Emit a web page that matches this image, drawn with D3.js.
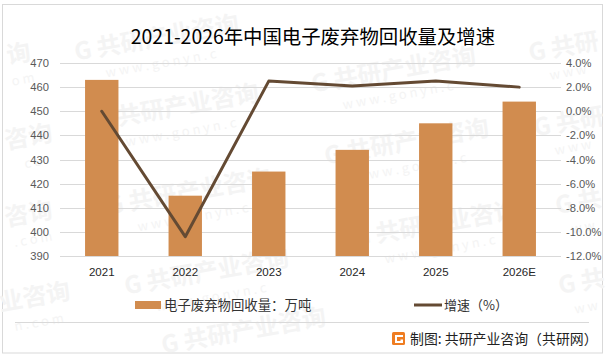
<!DOCTYPE html>
<html>
<head>
<meta charset="utf-8">
<script src="https://cdn.jsdelivr.net/npm/d3@7/dist/d3.min.js"></script>
<style>
  body { margin: 0; background: #fff; }
  svg { display: block; font-family: "Noto Sans CJK SC", sans-serif; }
</style>
</head>
<body>
<script>
var years = ['2021', '2022', '2023', '2024', '2025', '2026E'];
var recovery = [463, 415, 425, 434, 445, 454];
var growth = [0, -10.4, 2.5, 2.1, 2.5, 2.0];
var leftTicks = [390, 400, 410, 420, 430, 440, 450, 460, 470];
var rightTicks = [-12, -10, -8, -6, -4, -2, 0, 2, 4];
// watermarks. partial ones at the frame get shorter strings
var markText = ['G 共研产业咨询', 'G 共研产业咨询', 'G 共研产业咨询', 'G 共研产业咨询', 'G 共研产业咨询', 'G 共研产业咨询', 'G 共研产业咨询', 'G 共研产业咨询', 'G 共研', 'G 共研', 'G 共', 'G 共', '询', '咨询', '咨询', '业咨询'];
var markSub = ['w w w . g o n y n . c', 'w w w . g o n y n . c', 'w w w . g o n y n . c', 'w w w . g o n y n . c', '', 'w w w . g o n y n . c', 'w w w . g o n y n . c', 'w w w . g o n y n . c', 'w w w', 'w w w', 'w w', 'w w', 'o m', 'c o', '. c o m', 'n . c o m'];
var markX = [158, 178, 190, 208, 245, 395, 408, 437, 565, 570, 580, 583, 20, 30, 30, 36];
var markY = [46, 115, 200, 280, 339, 78, 150, 232, 55, 130, 210, 290, 62, 145, 222, 305];

var width = 613, height = 358;
var margin = {top: 63, right: 52, bottom: 102, left: 60};
var w = width - margin.left - margin.right,
    h = height - margin.top - margin.bottom;

var svg = d3.select('body').append('svg')
    .attr('width', width)
    .attr('height', height);

// outer frame
svg.append('rect')
    .attr('x', 2.5).attr('y', 4.5)
    .attr('width', 600).attr('height', 348.5)
    .attr('fill', '#fff')
    .attr('stroke', '#d9d9d9')
    .attr('stroke-width', 1);

// watermarks
var marks = svg.selectAll('.mark')
    .data(markText)
    .enter()
    .append('g')
    .attr('class', 'mark')
    .attr('transform', function (d, i) {
      return 'translate(' + markX[i] + ',' + markY[i] + ') rotate(-10)';
    });
marks.append('text')
    .text(function (d) { return d; })
    .attr('text-anchor', 'middle')
    .attr('font-size', 24)
    .attr('font-weight', 700)
    .attr('fill', '#f4f4f4');
marks.append('text')
    .text(function (d, i) { return markSub[i]; })
    .attr('text-anchor', 'middle')
    .attr('y', 22)
    .attr('font-size', 13)
    .attr('fill', '#f4f4f4');

var xScale = d3.scaleBand()
    .domain(years)
    .range([0, w])
    .paddingInner(0.6)
    .paddingOuter(0.3);

var yLeft = d3.scaleLinear().domain([390, 470]).range([h, 0]);
var yRight = d3.scaleLinear().domain([-12, 4]).range([h, 0]);

var g = svg.append('g')
    .attr('transform', 'translate(' + margin.left + ',' + margin.top + ')');

// gridlines
g.selectAll('.grid')
    .data(leftTicks)
    .enter()
    .append('line')
    .attr('class', 'grid')
    .attr('x1', 0)
    .attr('x2', w)
    .attr('y1', function (d) { return Math.round(yLeft(d)) + 0.5; })
    .attr('y2', function (d) { return Math.round(yLeft(d)) + 0.5; })
    .attr('stroke', '#d9d9d9')
    .attr('stroke-width', 1);

g.selectAll('.bar')
    .data(recovery)
    .enter()
    .append('rect')
    .attr('class', 'bar')
    .attr('x', function (d, i) { return xScale(years[i]); })
    .attr('y', function (d) { return yLeft(d); })
    .attr('width', xScale.bandwidth())
    .attr('height', function (d) { return h - yLeft(d); })
    .attr('fill', '#d18c4f');

var line = d3.line()
    .x(function (d, i) { return xScale(years[i]) + xScale.bandwidth() / 2; })
    .y(function (d) { return yRight(d); });

g.append('path')
    .datum(growth)
    .attr('d', line)
    .attr('fill', 'none')
    .attr('stroke', '#644a33')
    .attr('stroke-width', 3)
    .attr('stroke-linecap', 'round')
    .attr('stroke-linejoin', 'round');

// axes, tick marks and domain hidden
var leftAxis = d3.axisLeft(yLeft).tickValues(leftTicks).tickSize(0).tickPadding(11);
var rightAxis = d3.axisRight(yRight).tickValues(rightTicks).tickSize(0).tickPadding(5)
    .tickFormat(function (d) { return d.toFixed(1) + '%'; });
var bottomAxis = d3.axisBottom(xScale).tickSize(0).tickPadding(12);

g.append('g').call(leftAxis);
g.append('g').attr('transform', 'translate(' + w + ',0)').call(rightAxis);
g.append('g').attr('class', 'xa').attr('transform', 'translate(0,' + h + ')').call(bottomAxis);

g.selectAll('.domain').remove();
g.selectAll('.tick text')
    .attr('font-family', '"Liberation Sans", Arial, sans-serif')
    .attr('font-size', 11.2)
    .attr('fill', '#595959');
g.selectAll('.xa .tick text').attr('fill', '#262626').attr('font-size', 11.5);

// title
svg.append('text')
    .text('2021-2026年中国电子废弃物回收量及增速')
    .attr('x', 313)
    .attr('y', 44)
    .attr('text-anchor', 'middle')
    .attr('font-size', 19.4)
    .attr('fill', '#000');

// legend
svg.append('rect')
    .attr('x', 135).attr('y', 301)
    .attr('width', 26).attr('height', 8)
    .attr('fill', '#d18c4f');
svg.append('text')
    .text('电子废弃物回收量：万吨')
    .attr('x', 164).attr('y', 310)
    .attr('font-size', 13.4)
    .attr('fill', '#333');
svg.append('line')
    .attr('x1', 414).attr('x2', 442)
    .attr('y1', 305).attr('y2', 305)
    .attr('stroke', '#644a33')
    .attr('stroke-width', 3);
svg.append('text')
    .text('增速（%）')
    .attr('x', 444).attr('y', 310)
    .attr('font-size', 13)
    .attr('fill', '#333');

// footer rule and source
svg.append('line')
    .attr('x1', 15).attr('x2', 589)
    .attr('y1', 322.5).attr('y2', 322.5)
    .attr('stroke', '#d9d9d9');

var logo = svg.append('g').attr('transform', 'translate(392,332)');
logo.append('rect').attr('width', 13).attr('height', 13).attr('rx', 1.5).attr('fill', '#ef7d22');
logo.append('path')
    .attr('d', 'M3 3H11V5H5V9H8.5V7.5H11V11H3Z')
    .attr('fill', '#fff');

svg.append('text')
    .text('制图: 共研产业咨询（共研网）')
    .attr('x', 410).attr('y', 344)
    .attr('font-size', 13.9)
    .attr('fill', '#222');
</script>
</body>
</html>
